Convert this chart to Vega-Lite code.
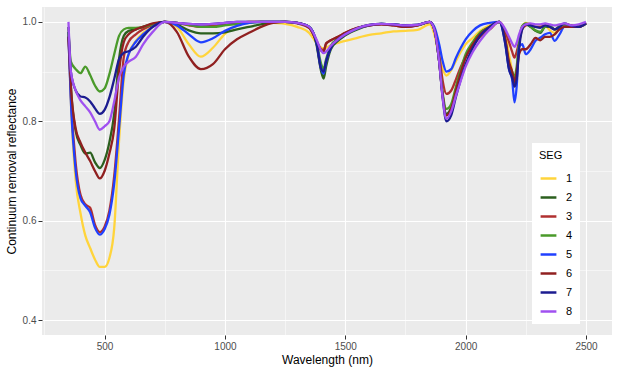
{
"$schema": "https://vega.github.io/schema/vega-lite/v6.json",
"autosize": {"type": "none"},
"width": 570,
"height": 328,
"padding": {"left": 42, "top": 7, "right": 6, "bottom": 40},
"config": {
  "view": {"fill": "#EBEBEB", "stroke": null},
  "font": "Liberation Sans",
  "axis": {"domain": false, "gridColor": "white", "tickColor": "#333333", "tickSize": 4, "labelColor": "#4D4D4D", "labelFontSize": 10, "titleFontSize": 12, "titleColor": "black", "titleFontWeight": "normal", "labelPadding": 2}
},
"data": {"values": [
{"s":"1","w":350,"r":0.99},{"s":"1","w":360,"r":0.84},{"s":"1","w":380,"r":0.68},{"s":"1","w":400,"r":0.615},{"s":"1","w":420,"r":0.57},{"s":"1","w":440,"r":0.545},{"s":"1","w":460,"r":0.522},{"s":"1","w":480,"r":0.507},{"s":"1","w":500,"r":0.507},{"s":"1","w":520,"r":0.525},{"s":"1","w":540,"r":0.585},{"s":"1","w":560,"r":0.76},{"s":"1","w":580,"r":0.885},{"s":"1","w":600,"r":0.935},{"s":"1","w":630,"r":0.962},{"s":"1","w":660,"r":0.978},{"s":"1","w":700,"r":0.99},{"s":"1","w":750,"r":1.0},{"s":"1","w":800,"r":0.99},{"s":"1","w":850,"r":0.955},{"s":"1","w":900,"r":0.93},{"s":"1","w":950,"r":0.948},{"s":"1","w":1000,"r":0.976},{"s":"1","w":1050,"r":0.993},{"s":"1","w":1100,"r":1.0},{"s":"1","w":1150,"r":1.0},{"s":"1","w":1200,"r":0.998},{"s":"1","w":1250,"r":0.996},{"s":"1","w":1300,"r":0.99},{"s":"1","w":1350,"r":0.978},{"s":"1","w":1380,"r":0.958},{"s":"1","w":1400,"r":0.948},{"s":"1","w":1410,"r":0.946},{"s":"1","w":1420,"r":0.948},{"s":"1","w":1440,"r":0.953},{"s":"1","w":1470,"r":0.958},{"s":"1","w":1500,"r":0.962},{"s":"1","w":1550,"r":0.968},{"s":"1","w":1600,"r":0.974},{"s":"1","w":1650,"r":0.977},{"s":"1","w":1700,"r":0.981},{"s":"1","w":1750,"r":0.982},{"s":"1","w":1800,"r":0.984},{"s":"1","w":1850,"r":0.995},{"s":"1","w":1870,"r":0.975},{"s":"1","w":1890,"r":0.93},{"s":"1","w":1905,"r":0.905},{"s":"1","w":1920,"r":0.892},{"s":"1","w":1940,"r":0.903},{"s":"1","w":1960,"r":0.922},{"s":"1","w":1980,"r":0.94},{"s":"1","w":2000,"r":0.955},{"s":"1","w":2030,"r":0.968},{"s":"1","w":2060,"r":0.982},{"s":"1","w":2100,"r":0.993},{"s":"1","w":2140,"r":1.0},{"s":"1","w":2165,"r":0.975},{"s":"1","w":2180,"r":0.935},{"s":"1","w":2193,"r":0.9},{"s":"1","w":2203,"r":0.87},{"s":"1","w":2212,"r":0.88},{"s":"1","w":2222,"r":0.95},{"s":"1","w":2235,"r":0.99},{"s":"1","w":2250,"r":0.998},{"s":"1","w":2270,"r":0.995},{"s":"1","w":2290,"r":0.99},{"s":"1","w":2310,"r":0.99},{"s":"1","w":2330,"r":0.993},{"s":"1","w":2350,"r":0.983},{"s":"1","w":2370,"r":0.978},{"s":"1","w":2390,"r":0.99},{"s":"1","w":2410,"r":0.995},{"s":"1","w":2440,"r":0.993},{"s":"1","w":2470,"r":0.99},{"s":"1","w":2500,"r":0.997},
{"s":"2","w":350,"r":0.98},{"s":"2","w":360,"r":0.87},{"s":"2","w":380,"r":0.78},{"s":"2","w":400,"r":0.752},{"s":"2","w":420,"r":0.735},{"s":"2","w":440,"r":0.737},{"s":"2","w":460,"r":0.718},{"s":"2","w":480,"r":0.706},{"s":"2","w":500,"r":0.722},{"s":"2","w":520,"r":0.758},{"s":"2","w":540,"r":0.815},{"s":"2","w":560,"r":0.925},{"s":"2","w":580,"r":0.972},{"s":"2","w":600,"r":0.982},{"s":"2","w":630,"r":0.985},{"s":"2","w":660,"r":0.99},{"s":"2","w":700,"r":0.995},{"s":"2","w":750,"r":1.0},{"s":"2","w":800,"r":0.995},{"s":"2","w":850,"r":0.983},{"s":"2","w":900,"r":0.977},{"s":"2","w":950,"r":0.977},{"s":"2","w":1000,"r":0.979},{"s":"2","w":1050,"r":0.985},{"s":"2","w":1100,"r":0.99},{"s":"2","w":1150,"r":0.995},{"s":"2","w":1200,"r":0.999},{"s":"2","w":1250,"r":1.0},{"s":"2","w":1300,"r":0.998},{"s":"2","w":1350,"r":0.99},{"s":"2","w":1380,"r":0.955},{"s":"2","w":1400,"r":0.9},{"s":"2","w":1410,"r":0.886},{"s":"2","w":1420,"r":0.91},{"s":"2","w":1440,"r":0.945},{"s":"2","w":1470,"r":0.962},{"s":"2","w":1500,"r":0.973},{"s":"2","w":1550,"r":0.985},{"s":"2","w":1600,"r":0.993},{"s":"2","w":1650,"r":0.996},{"s":"2","w":1700,"r":0.995},{"s":"2","w":1750,"r":0.993},{"s":"2","w":1800,"r":0.993},{"s":"2","w":1850,"r":1.0},{"s":"2","w":1870,"r":0.985},{"s":"2","w":1890,"r":0.92},{"s":"2","w":1905,"r":0.85},{"s":"2","w":1920,"r":0.815},{"s":"2","w":1940,"r":0.828},{"s":"2","w":1960,"r":0.865},{"s":"2","w":1980,"r":0.9},{"s":"2","w":2000,"r":0.93},{"s":"2","w":2030,"r":0.958},{"s":"2","w":2060,"r":0.978},{"s":"2","w":2100,"r":0.99},{"s":"2","w":2140,"r":1.0},{"s":"2","w":2165,"r":0.96},{"s":"2","w":2180,"r":0.91},{"s":"2","w":2193,"r":0.895},{"s":"2","w":2203,"r":0.885},{"s":"2","w":2212,"r":0.9},{"s":"2","w":2222,"r":0.955},{"s":"2","w":2235,"r":0.99},{"s":"2","w":2250,"r":0.995},{"s":"2","w":2270,"r":0.99},{"s":"2","w":2290,"r":0.982},{"s":"2","w":2310,"r":0.978},{"s":"2","w":2330,"r":0.99},{"s":"2","w":2350,"r":0.99},{"s":"2","w":2370,"r":0.985},{"s":"2","w":2390,"r":0.99},{"s":"2","w":2410,"r":0.995},{"s":"2","w":2440,"r":0.99},{"s":"2","w":2470,"r":0.99},{"s":"2","w":2500,"r":0.996},
{"s":"3","w":350,"r":0.97},{"s":"3","w":360,"r":0.85},{"s":"3","w":380,"r":0.715},{"s":"3","w":400,"r":0.652},{"s":"3","w":420,"r":0.633},{"s":"3","w":440,"r":0.626},{"s":"3","w":460,"r":0.592},{"s":"3","w":480,"r":0.577},{"s":"3","w":500,"r":0.588},{"s":"3","w":520,"r":0.62},{"s":"3","w":540,"r":0.69},{"s":"3","w":560,"r":0.805},{"s":"3","w":580,"r":0.93},{"s":"3","w":600,"r":0.96},{"s":"3","w":630,"r":0.975},{"s":"3","w":660,"r":0.985},{"s":"3","w":700,"r":0.994},{"s":"3","w":750,"r":1.0},{"s":"3","w":800,"r":0.998},{"s":"3","w":850,"r":0.993},{"s":"3","w":900,"r":0.99},{"s":"3","w":950,"r":0.992},{"s":"3","w":1000,"r":0.995},{"s":"3","w":1050,"r":0.998},{"s":"3","w":1100,"r":1.0},{"s":"3","w":1150,"r":1.0},{"s":"3","w":1200,"r":1.0},{"s":"3","w":1250,"r":1.0},{"s":"3","w":1300,"r":0.997},{"s":"3","w":1350,"r":0.988},{"s":"3","w":1380,"r":0.962},{"s":"3","w":1400,"r":0.945},{"s":"3","w":1410,"r":0.943},{"s":"3","w":1420,"r":0.955},{"s":"3","w":1440,"r":0.963},{"s":"3","w":1470,"r":0.97},{"s":"3","w":1500,"r":0.978},{"s":"3","w":1550,"r":0.988},{"s":"3","w":1600,"r":0.993},{"s":"3","w":1650,"r":0.995},{"s":"3","w":1700,"r":0.993},{"s":"3","w":1750,"r":0.99},{"s":"3","w":1800,"r":0.993},{"s":"3","w":1850,"r":1.0},{"s":"3","w":1870,"r":0.985},{"s":"3","w":1890,"r":0.935},{"s":"3","w":1905,"r":0.88},{"s":"3","w":1920,"r":0.855},{"s":"3","w":1940,"r":0.862},{"s":"3","w":1960,"r":0.885},{"s":"3","w":1980,"r":0.91},{"s":"3","w":2000,"r":0.93},{"s":"3","w":2030,"r":0.952},{"s":"3","w":2060,"r":0.97},{"s":"3","w":2100,"r":0.985},{"s":"3","w":2140,"r":1.0},{"s":"3","w":2165,"r":0.98},{"s":"3","w":2180,"r":0.96},{"s":"3","w":2193,"r":0.94},{"s":"3","w":2203,"r":0.928},{"s":"3","w":2212,"r":0.94},{"s":"3","w":2222,"r":0.96},{"s":"3","w":2235,"r":0.985},{"s":"3","w":2250,"r":0.993},{"s":"3","w":2270,"r":0.995},{"s":"3","w":2290,"r":0.99},{"s":"3","w":2310,"r":0.99},{"s":"3","w":2330,"r":0.993},{"s":"3","w":2350,"r":0.99},{"s":"3","w":2370,"r":0.985},{"s":"3","w":2390,"r":0.99},{"s":"3","w":2410,"r":0.995},{"s":"3","w":2440,"r":0.993},{"s":"3","w":2470,"r":0.99},{"s":"3","w":2500,"r":0.998},
{"s":"4","w":350,"r":0.98},{"s":"4","w":360,"r":0.92},{"s":"4","w":380,"r":0.905},{"s":"4","w":400,"r":0.897},{"s":"4","w":420,"r":0.91},{"s":"4","w":440,"r":0.893},{"s":"4","w":460,"r":0.872},{"s":"4","w":480,"r":0.86},{"s":"4","w":500,"r":0.866},{"s":"4","w":520,"r":0.895},{"s":"4","w":540,"r":0.935},{"s":"4","w":560,"r":0.972},{"s":"4","w":580,"r":0.985},{"s":"4","w":600,"r":0.988},{"s":"4","w":630,"r":0.988},{"s":"4","w":660,"r":0.99},{"s":"4","w":700,"r":0.995},{"s":"4","w":750,"r":1.0},{"s":"4","w":800,"r":0.998},{"s":"4","w":850,"r":0.994},{"s":"4","w":900,"r":0.99},{"s":"4","w":950,"r":0.99},{"s":"4","w":1000,"r":0.993},{"s":"4","w":1050,"r":0.996},{"s":"4","w":1100,"r":0.998},{"s":"4","w":1150,"r":1.0},{"s":"4","w":1200,"r":1.0},{"s":"4","w":1250,"r":1.0},{"s":"4","w":1300,"r":0.998},{"s":"4","w":1350,"r":0.99},{"s":"4","w":1380,"r":0.96},{"s":"4","w":1400,"r":0.915},{"s":"4","w":1410,"r":0.905},{"s":"4","w":1420,"r":0.925},{"s":"4","w":1440,"r":0.952},{"s":"4","w":1470,"r":0.967},{"s":"4","w":1500,"r":0.976},{"s":"4","w":1550,"r":0.987},{"s":"4","w":1600,"r":0.994},{"s":"4","w":1650,"r":0.996},{"s":"4","w":1700,"r":0.995},{"s":"4","w":1750,"r":0.993},{"s":"4","w":1800,"r":0.994},{"s":"4","w":1850,"r":1.0},{"s":"4","w":1870,"r":0.985},{"s":"4","w":1890,"r":0.922},{"s":"4","w":1905,"r":0.855},{"s":"4","w":1920,"r":0.825},{"s":"4","w":1940,"r":0.835},{"s":"4","w":1960,"r":0.87},{"s":"4","w":1980,"r":0.905},{"s":"4","w":2000,"r":0.935},{"s":"4","w":2030,"r":0.96},{"s":"4","w":2060,"r":0.978},{"s":"4","w":2100,"r":0.99},{"s":"4","w":2140,"r":1.0},{"s":"4","w":2165,"r":0.962},{"s":"4","w":2180,"r":0.915},{"s":"4","w":2193,"r":0.9},{"s":"4","w":2203,"r":0.89},{"s":"4","w":2212,"r":0.91},{"s":"4","w":2222,"r":0.96},{"s":"4","w":2235,"r":0.992},{"s":"4","w":2250,"r":0.997},{"s":"4","w":2270,"r":0.99},{"s":"4","w":2290,"r":0.983},{"s":"4","w":2310,"r":0.98},{"s":"4","w":2330,"r":0.99},{"s":"4","w":2350,"r":0.992},{"s":"4","w":2370,"r":0.985},{"s":"4","w":2390,"r":0.992},{"s":"4","w":2410,"r":0.995},{"s":"4","w":2440,"r":0.99},{"s":"4","w":2470,"r":0.992},{"s":"4","w":2500,"r":0.997},
{"s":"5","w":350,"r":0.97},{"s":"5","w":360,"r":0.84},{"s":"5","w":380,"r":0.7},{"s":"5","w":400,"r":0.645},{"s":"5","w":420,"r":0.63},{"s":"5","w":440,"r":0.617},{"s":"5","w":460,"r":0.586},{"s":"5","w":480,"r":0.572},{"s":"5","w":500,"r":0.583},{"s":"5","w":520,"r":0.612},{"s":"5","w":540,"r":0.675},{"s":"5","w":560,"r":0.785},{"s":"5","w":580,"r":0.895},{"s":"5","w":600,"r":0.935},{"s":"5","w":630,"r":0.96},{"s":"5","w":660,"r":0.975},{"s":"5","w":700,"r":0.99},{"s":"5","w":750,"r":1.0},{"s":"5","w":800,"r":0.993},{"s":"5","w":850,"r":0.975},{"s":"5","w":900,"r":0.959},{"s":"5","w":950,"r":0.967},{"s":"5","w":1000,"r":0.982},{"s":"5","w":1050,"r":0.992},{"s":"5","w":1100,"r":0.998},{"s":"5","w":1150,"r":1.0},{"s":"5","w":1200,"r":1.0},{"s":"5","w":1250,"r":1.0},{"s":"5","w":1300,"r":0.998},{"s":"5","w":1350,"r":0.99},{"s":"5","w":1380,"r":0.96},{"s":"5","w":1400,"r":0.905},{"s":"5","w":1410,"r":0.896},{"s":"5","w":1420,"r":0.92},{"s":"5","w":1440,"r":0.948},{"s":"5","w":1470,"r":0.965},{"s":"5","w":1500,"r":0.975},{"s":"5","w":1550,"r":0.987},{"s":"5","w":1600,"r":0.993},{"s":"5","w":1650,"r":0.996},{"s":"5","w":1700,"r":0.995},{"s":"5","w":1750,"r":0.993},{"s":"5","w":1800,"r":0.994},{"s":"5","w":1850,"r":1.0},{"s":"5","w":1870,"r":0.99},{"s":"5","w":1890,"r":0.955},{"s":"5","w":1905,"r":0.92},{"s":"5","w":1920,"r":0.9},{"s":"5","w":1940,"r":0.905},{"s":"5","w":1960,"r":0.928},{"s":"5","w":1980,"r":0.948},{"s":"5","w":2000,"r":0.965},{"s":"5","w":2030,"r":0.982},{"s":"5","w":2060,"r":0.993},{"s":"5","w":2100,"r":0.998},{"s":"5","w":2140,"r":1.0},{"s":"5","w":2165,"r":0.955},{"s":"5","w":2180,"r":0.905},{"s":"5","w":2193,"r":0.885},{"s":"5","w":2203,"r":0.838},{"s":"5","w":2212,"r":0.87},{"s":"5","w":2222,"r":0.95},{"s":"5","w":2235,"r":0.955},{"s":"5","w":2250,"r":0.935},{"s":"5","w":2270,"r":0.945},{"s":"5","w":2290,"r":0.962},{"s":"5","w":2310,"r":0.968},{"s":"5","w":2330,"r":0.975},{"s":"5","w":2350,"r":0.978},{"s":"5","w":2370,"r":0.962},{"s":"5","w":2390,"r":0.975},{"s":"5","w":2410,"r":0.99},{"s":"5","w":2440,"r":0.99},{"s":"5","w":2470,"r":0.99},{"s":"5","w":2500,"r":0.997},
{"s":"6","w":350,"r":0.97},{"s":"6","w":360,"r":0.87},{"s":"6","w":380,"r":0.785},{"s":"6","w":400,"r":0.757},{"s":"6","w":420,"r":0.737},{"s":"6","w":440,"r":0.72},{"s":"6","w":460,"r":0.7},{"s":"6","w":480,"r":0.685},{"s":"6","w":500,"r":0.7},{"s":"6","w":520,"r":0.735},{"s":"6","w":540,"r":0.785},{"s":"6","w":560,"r":0.9},{"s":"6","w":580,"r":0.96},{"s":"6","w":600,"r":0.975},{"s":"6","w":630,"r":0.985},{"s":"6","w":660,"r":0.99},{"s":"6","w":700,"r":0.997},{"s":"6","w":750,"r":1.0},{"s":"6","w":800,"r":0.98},{"s":"6","w":850,"r":0.93},{"s":"6","w":900,"r":0.905},{"s":"6","w":950,"r":0.915},{"s":"6","w":1000,"r":0.945},{"s":"6","w":1050,"r":0.965},{"s":"6","w":1100,"r":0.978},{"s":"6","w":1150,"r":0.99},{"s":"6","w":1200,"r":0.998},{"s":"6","w":1250,"r":1.0},{"s":"6","w":1300,"r":0.998},{"s":"6","w":1350,"r":0.988},{"s":"6","w":1380,"r":0.962},{"s":"6","w":1400,"r":0.942},{"s":"6","w":1410,"r":0.94},{"s":"6","w":1420,"r":0.957},{"s":"6","w":1440,"r":0.963},{"s":"6","w":1470,"r":0.97},{"s":"6","w":1500,"r":0.978},{"s":"6","w":1550,"r":0.988},{"s":"6","w":1600,"r":0.993},{"s":"6","w":1650,"r":0.995},{"s":"6","w":1700,"r":0.993},{"s":"6","w":1750,"r":0.99},{"s":"6","w":1800,"r":0.993},{"s":"6","w":1850,"r":1.0},{"s":"6","w":1870,"r":0.985},{"s":"6","w":1890,"r":0.92},{"s":"6","w":1905,"r":0.85},{"s":"6","w":1920,"r":0.812},{"s":"6","w":1940,"r":0.825},{"s":"6","w":1960,"r":0.862},{"s":"6","w":1980,"r":0.898},{"s":"6","w":2000,"r":0.928},{"s":"6","w":2030,"r":0.955},{"s":"6","w":2060,"r":0.975},{"s":"6","w":2100,"r":0.99},{"s":"6","w":2140,"r":1.0},{"s":"6","w":2165,"r":0.965},{"s":"6","w":2180,"r":0.92},{"s":"6","w":2193,"r":0.9},{"s":"6","w":2203,"r":0.878},{"s":"6","w":2212,"r":0.9},{"s":"6","w":2222,"r":0.935},{"s":"6","w":2235,"r":0.945},{"s":"6","w":2250,"r":0.945},{"s":"6","w":2270,"r":0.955},{"s":"6","w":2290,"r":0.968},{"s":"6","w":2310,"r":0.963},{"s":"6","w":2330,"r":0.97},{"s":"6","w":2350,"r":0.97},{"s":"6","w":2370,"r":0.975},{"s":"6","w":2390,"r":0.985},{"s":"6","w":2410,"r":0.99},{"s":"6","w":2440,"r":0.99},{"s":"6","w":2470,"r":0.99},{"s":"6","w":2500,"r":0.997},
{"s":"7","w":350,"r":0.99},{"s":"7","w":360,"r":0.9},{"s":"7","w":380,"r":0.862},{"s":"7","w":400,"r":0.85},{"s":"7","w":420,"r":0.848},{"s":"7","w":440,"r":0.84},{"s":"7","w":460,"r":0.826},{"s":"7","w":480,"r":0.815},{"s":"7","w":500,"r":0.823},{"s":"7","w":520,"r":0.848},{"s":"7","w":540,"r":0.885},{"s":"7","w":560,"r":0.925},{"s":"7","w":580,"r":0.938},{"s":"7","w":600,"r":0.941},{"s":"7","w":630,"r":0.95},{"s":"7","w":660,"r":0.97},{"s":"7","w":700,"r":0.99},{"s":"7","w":750,"r":1.0},{"s":"7","w":800,"r":0.998},{"s":"7","w":850,"r":0.996},{"s":"7","w":900,"r":0.995},{"s":"7","w":950,"r":0.996},{"s":"7","w":1000,"r":0.998},{"s":"7","w":1050,"r":1.0},{"s":"7","w":1100,"r":1.0},{"s":"7","w":1150,"r":1.0},{"s":"7","w":1200,"r":1.0},{"s":"7","w":1250,"r":1.0},{"s":"7","w":1300,"r":0.998},{"s":"7","w":1350,"r":0.99},{"s":"7","w":1380,"r":0.958},{"s":"7","w":1400,"r":0.905},{"s":"7","w":1410,"r":0.9},{"s":"7","w":1420,"r":0.92},{"s":"7","w":1440,"r":0.948},{"s":"7","w":1470,"r":0.965},{"s":"7","w":1500,"r":0.975},{"s":"7","w":1550,"r":0.987},{"s":"7","w":1600,"r":0.994},{"s":"7","w":1650,"r":0.996},{"s":"7","w":1700,"r":0.995},{"s":"7","w":1750,"r":0.993},{"s":"7","w":1800,"r":0.994},{"s":"7","w":1850,"r":1.0},{"s":"7","w":1870,"r":0.985},{"s":"7","w":1890,"r":0.92},{"s":"7","w":1905,"r":0.845},{"s":"7","w":1920,"r":0.8},{"s":"7","w":1940,"r":0.812},{"s":"7","w":1960,"r":0.85},{"s":"7","w":1980,"r":0.885},{"s":"7","w":2000,"r":0.915},{"s":"7","w":2030,"r":0.948},{"s":"7","w":2060,"r":0.972},{"s":"7","w":2100,"r":0.99},{"s":"7","w":2140,"r":1.0},{"s":"7","w":2165,"r":0.955},{"s":"7","w":2180,"r":0.905},{"s":"7","w":2193,"r":0.888},{"s":"7","w":2203,"r":0.87},{"s":"7","w":2212,"r":0.885},{"s":"7","w":2222,"r":0.945},{"s":"7","w":2235,"r":0.985},{"s":"7","w":2250,"r":0.995},{"s":"7","w":2270,"r":0.993},{"s":"7","w":2290,"r":0.99},{"s":"7","w":2310,"r":0.988},{"s":"7","w":2330,"r":0.993},{"s":"7","w":2350,"r":0.99},{"s":"7","w":2370,"r":0.985},{"s":"7","w":2390,"r":0.99},{"s":"7","w":2410,"r":0.997},{"s":"7","w":2440,"r":0.992},{"s":"7","w":2470,"r":0.99},{"s":"7","w":2500,"r":0.997},
{"s":"8","w":350,"r":1.0},{"s":"8","w":360,"r":0.9},{"s":"8","w":380,"r":0.862},{"s":"8","w":400,"r":0.842},{"s":"8","w":420,"r":0.83},{"s":"8","w":440,"r":0.818},{"s":"8","w":460,"r":0.8},{"s":"8","w":480,"r":0.783},{"s":"8","w":500,"r":0.79},{"s":"8","w":520,"r":0.8},{"s":"8","w":540,"r":0.84},{"s":"8","w":560,"r":0.888},{"s":"8","w":580,"r":0.91},{"s":"8","w":600,"r":0.92},{"s":"8","w":630,"r":0.93},{"s":"8","w":660,"r":0.955},{"s":"8","w":700,"r":0.98},{"s":"8","w":750,"r":1.0},{"s":"8","w":800,"r":0.998},{"s":"8","w":850,"r":0.996},{"s":"8","w":900,"r":0.995},{"s":"8","w":950,"r":0.996},{"s":"8","w":1000,"r":0.998},{"s":"8","w":1050,"r":1.0},{"s":"8","w":1100,"r":1.0},{"s":"8","w":1150,"r":1.0},{"s":"8","w":1200,"r":1.0},{"s":"8","w":1250,"r":1.0},{"s":"8","w":1300,"r":0.998},{"s":"8","w":1350,"r":0.99},{"s":"8","w":1380,"r":0.965},{"s":"8","w":1400,"r":0.942},{"s":"8","w":1410,"r":0.937},{"s":"8","w":1420,"r":0.94},{"s":"8","w":1440,"r":0.952},{"s":"8","w":1470,"r":0.965},{"s":"8","w":1500,"r":0.975},{"s":"8","w":1550,"r":0.987},{"s":"8","w":1600,"r":0.994},{"s":"8","w":1650,"r":0.996},{"s":"8","w":1700,"r":0.995},{"s":"8","w":1750,"r":0.993},{"s":"8","w":1800,"r":0.994},{"s":"8","w":1850,"r":1.0},{"s":"8","w":1870,"r":0.985},{"s":"8","w":1890,"r":0.92},{"s":"8","w":1905,"r":0.845},{"s":"8","w":1920,"r":0.805},{"s":"8","w":1940,"r":0.82},{"s":"8","w":1960,"r":0.852},{"s":"8","w":1980,"r":0.882},{"s":"8","w":2000,"r":0.91},{"s":"8","w":2030,"r":0.94},{"s":"8","w":2060,"r":0.962},{"s":"8","w":2100,"r":0.985},{"s":"8","w":2140,"r":1.0},{"s":"8","w":2165,"r":0.985},{"s":"8","w":2180,"r":0.97},{"s":"8","w":2193,"r":0.957},{"s":"8","w":2203,"r":0.95},{"s":"8","w":2212,"r":0.958},{"s":"8","w":2222,"r":0.975},{"s":"8","w":2235,"r":0.99},{"s":"8","w":2250,"r":0.995},{"s":"8","w":2270,"r":0.997},{"s":"8","w":2290,"r":0.995},{"s":"8","w":2310,"r":0.995},{"s":"8","w":2330,"r":0.997},{"s":"8","w":2350,"r":0.995},{"s":"8","w":2370,"r":0.993},{"s":"8","w":2390,"r":0.995},{"s":"8","w":2410,"r":0.997},{"s":"8","w":2440,"r":0.993},{"s":"8","w":2470,"r":0.995},{"s":"8","w":2500,"r":1.0}
]},
"mark": {"type": "line", "strokeWidth": 2.3, "clip": true, "interpolate": "monotone"},
"encoding": {
  "x": {"field": "w", "type": "quantitative", "title": "Wavelength (nm)",
    "scale": {"domain": [240, 2608], "nice": false, "zero": false},
    "axis": {"values": [250, 500, 750, 1000, 1250, 1500, 1750, 2000, 2250, 2500], "format": "d",
      "labelExpr": "datum.value % 500 === 0 ? datum.label : ''",
      "gridWidth": {"condition": {"test": "datum.value % 500 === 0", "value": 1.1}, "value": 0.5},
      "tickOpacity": {"condition": {"test": "datum.value % 500 === 0", "value": 1}, "value": 0},
      "titlePadding": 3}},
  "y": {"field": "r", "type": "quantitative", "title": "Continuum  removal reflectance",
    "scale": {"domain": [0.37, 1.03], "nice": false, "zero": false},
    "axis": {"values": [0.4, 0.5, 0.6, 0.7, 0.8, 0.9, 1.0], "format": ".1f",
      "labelExpr": "round(datum.value*10) % 2 === 0 ? datum.label : ''",
      "gridWidth": {"condition": {"test": "round(datum.value*10) % 2 === 0", "value": 1.1}, "value": 0.5},
      "tickOpacity": {"condition": {"test": "round(datum.value*10) % 2 === 0", "value": 1}, "value": 0},
      "titlePadding": 4}},
  "color": {"field": "s", "type": "nominal",
    "scale": {"domain": ["1","2","3","4","5","6","7","8"], "range": ["#FFD43B", "#2B5F1E", "#B03030", "#4A9A2A", "#2040FF", "#902020", "#1C1C90", "#A050F0"]},
    "legend": {"title": "SEG", "orient": "none", "legendX": 490, "legendY": 136, "fillColor": "white", "padding": 7,
      "titleFontSize": 11, "titleFontWeight": "normal", "titleColor": "black", "titlePadding": 8,
      "labelFontSize": 11, "labelColor": "black", "labelOffset": 8,
      "symbolType": "stroke", "symbolStrokeWidth": 2.5, "symbolSize": 250, "rowPadding": 4}}
}
}
